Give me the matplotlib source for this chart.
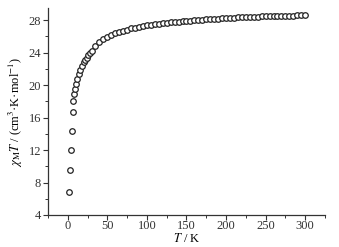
import matplotlib
matplotlib.use('Agg')
import matplotlib.pyplot as plt
from matplotlib.ticker import MultipleLocator

plt.rcParams['font.family'] = 'Liberation Serif'
plt.rcParams['mathtext.fontset'] = 'stix'

# chi_M*T vs T data
temps = [2, 3, 4, 5, 6, 7, 8, 9, 10, 12, 14, 16, 18, 20, 22, 24, 26, 28,
         30, 35, 40, 45, 50, 55, 60, 65, 70, 75, 80, 85, 90, 95, 100,
         105, 110, 115, 120, 125, 130, 135, 140, 145, 150, 155, 160, 165,
         170, 175, 180, 185, 190, 195, 200, 205, 210, 215, 220, 225, 230,
         235, 240, 245, 250, 255, 260, 265, 270, 275, 280, 285, 290, 295, 300]
chiT = [6.8, 9.5, 12.0, 14.4, 16.7, 18.0, 18.9, 19.5, 20.1, 20.8, 21.4, 21.9,
        22.4, 22.8, 23.1, 23.4, 23.7, 24.0,
        24.2, 24.8, 25.3, 25.65, 25.95, 26.2, 26.4, 26.58, 26.72, 26.85,
        26.98, 27.08, 27.18, 27.27, 27.35,
        27.42, 27.5, 27.56, 27.62, 27.68, 27.73, 27.78, 27.83, 27.88, 27.92,
        27.96, 28.0, 28.04, 28.08, 28.11, 28.14, 28.17, 28.2, 28.23, 28.26,
        28.29, 28.31, 28.33, 28.36, 28.38, 28.4, 28.42, 28.44, 28.46, 28.48,
        28.49, 28.51, 28.52, 28.54, 28.55, 28.56, 28.57, 28.58, 28.59, 28.6]

fig = plt.figure(figsize=(3.39, 2.47), dpi=100)
ax = fig.add_axes([0.1416, 0.1296, 0.817, 0.838])

ax.plot(temps, chiT, 'o', ms=4.0, mfc='white', mec='#222222', mew=0.9)

ax.set_xlim(-25, 325)
ax.set_ylim(4, 29.5)
ax.xaxis.set_major_locator(MultipleLocator(50))
ax.xaxis.set_minor_locator(MultipleLocator(25))
ax.yaxis.set_major_locator(MultipleLocator(4))
ax.yaxis.set_minor_locator(MultipleLocator(2))
ax.set_xticks([0, 50, 100, 150, 200, 250, 300])

ax.spines['top'].set_visible(False)
ax.spines['right'].set_visible(False)
for s in ['left', 'bottom']:
    ax.spines[s].set_linewidth(0.9)
    ax.spines[s].set_color('#333333')

ax.tick_params(which='major', direction='out', length=3.5, width=0.8,
               labelsize=9, pad=1.5, colors='#333333')
ax.tick_params(axis='x', which='major', pad=0.3)
ax.tick_params(which='minor', direction='out', length=2, width=0.7,
               colors='#333333')

ax.set_xlabel('$T$ / K', fontsize=9)
ax.set_ylabel(r'$\chi_{\rm M}T$ / (cm$^3$·K·mol$^{-1}$)', fontsize=9)
ax.xaxis.set_label_coords(0.5, -0.08)
ax.yaxis.set_label_coords(-0.083, 0.5)

fig.savefig('out.png', dpi=100)
